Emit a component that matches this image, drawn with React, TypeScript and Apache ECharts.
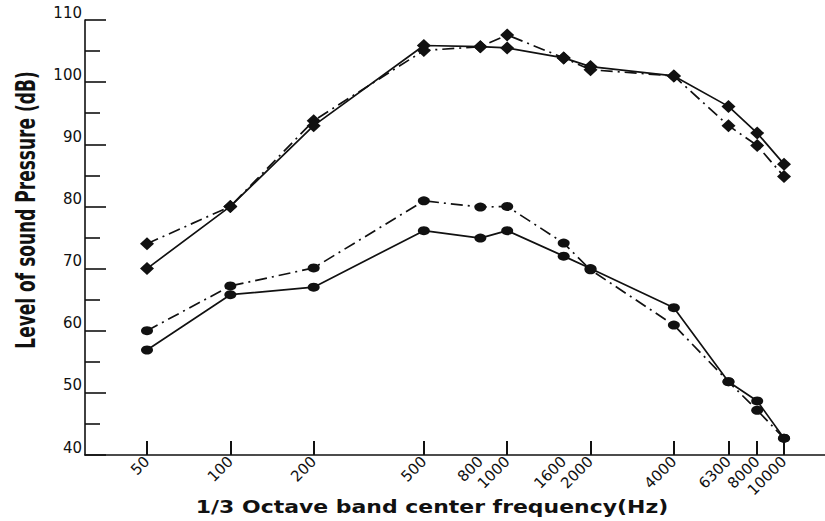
import React, { useEffect, useRef } from "react";
import * as echarts from "echarts";

// 1/3 octave band centre frequencies (Hz) at which levels were measured
const frequencies = [50, 100, 200, 500, 800, 1000, 1600, 2000, 4000, 6300, 8000, 10000];
// frequencies that carry a tick mark on the x axis
const tickFrequencies = [50, 100, 200, 500, 1000, 2000, 4000, 6300, 8000, 10000];

// Level of sound pressure (dB)
const upperSolid = [70, 80, 93, 105.9, 105.7, 105.5, 103.9, 102.5, 101, 96.1, 91.8, 86.8];
const upperDashDot = [74, 80, 93.8, 105.1, 105.7, 107.6, 103.9, 102, 101, 93, 89.8, 84.8];
const lowerDashDot = [60, 67.2, 70.1, 80.9, 79.9, 80, 74.1, 69.8, 60.9, 51.8, 47.2, 42.7];
const lowerSolid = [56.9, 65.8, 67, 76.1, 74.9, 76.1, 72, 70, 63.7, 51.8, 48.7, 42.7];

const yTicks = { min: 40, max: 110, interval: 10 };

const xTitle = "1/3 Octave band center frequency(Hz)";
const yTitle = "Level of sound Pressure (dB)";

const INK = "#111111";

function toPoints(values: number[]) {
  return frequencies.map((f, i) => [Math.log10(f), values[i]]);
}

function nearestFreq(v: number) {
  let best = frequencies[0];
  for (const f of frequencies) {
    if (Math.abs(Math.log10(f) - v) < Math.abs(Math.log10(best) - v)) best = f;
  }
  return String(best);
}

export default function App() {
  const ref = useRef<HTMLDivElement>(null);
  useEffect(() => {
    if (!ref.current) return;
    const chart = echarts.init(ref.current, null, { renderer: "svg" });
    const dashDot = [12, 5, 2, 5];
    const lineSeries = (name: string, values: number[], symbol: string, size: any, dashed: boolean) => ({
      name,
      type: "line",
      data: toPoints(values),
      symbol,
      symbolSize: size,
      showSymbol: true,
      itemStyle: { color: INK, borderWidth: 0 },
      lineStyle: { color: INK, width: 1.7, type: dashed ? dashDot : "solid" },
      emphasis: { disabled: true },
      z: dashed ? 2 : 3,
    });
    chart.setOption({
      animation: false,
      backgroundColor: "#ffffff",
      grid: { left: 85, right: 0, top: 20, bottom: 66, containLabel: false, outerBoundsMode: "none" },
      xAxis: {
        type: "value",
        min: 1.475,
        max: 4.148,
        axisLine: { show: true, lineStyle: { color: INK, width: 1.6 } },
        axisTick: {
          show: true,
          inside: true,
          length: 14,
          lineStyle: { color: INK, width: 2 },
          customValues: tickFrequencies.map((f) => Math.log10(f)),
        },
        axisLabel: {
          show: true,
          rotate: 45,
          margin: 4,
          color: INK,
          fontSize: 15,
          fontFamily: "'DejaVu Sans', sans-serif",
          customValues: frequencies.map((f) => Math.log10(f)),
          formatter: (v: number) => nearestFreq(v),
        },
        splitLine: { show: false },
      },
      yAxis: {
        type: "value",
        min: yTicks.min,
        max: yTicks.max,
        interval: yTicks.interval,
        axisLine: { show: true, lineStyle: { color: INK, width: 1.6 } },
        axisTick: { show: true, inside: true, length: 21, lineStyle: { color: INK, width: 1.6 } },
        minorTick: { show: true, splitNumber: 2, length: 15, lineStyle: { color: INK, width: 1.6 } },
        axisLabel: {
          color: INK,
          fontSize: 15,
          margin: 3,
          verticalAlign: "bottom",
          lineHeight: 15,
          fontFamily: "'DejaVu Sans', sans-serif",
        },
        splitLine: { show: false },
        minorSplitLine: { show: false },
      },
      series: [
        lineSeries("upperSolid", upperSolid, "diamond", [14, 13], false),
        lineSeries("upperDashDot", upperDashDot, "diamond", [14, 13], true),
        lineSeries("lowerDashDot", lowerDashDot, "circle", [12, 9], true),
        lineSeries("lowerSolid", lowerSolid, "circle", [12, 9], false),
      ],
      graphic: [
        {
          type: "text",
          x: 432,
          y: 507,
          scaleX: 1.22,
          style: {
            text: xTitle,
            fill: INK,
            font: "bold 18px 'DejaVu Sans', sans-serif",
            align: "center",
            verticalAlign: "middle",
          },
        },
        {
          type: "text",
          x: 26,
          y: 210,
          rotation: Math.PI / 2,
          scaleX: 0.655,
          style: {
            text: yTitle,
            fill: INK,
            font: "bold 26px 'DejaVu Sans', sans-serif",
            align: "center",
            verticalAlign: "middle",
          },
        },
      ],
    });
    return () => chart.dispose();
  }, []);
  return (
    <div
      ref={ref}
      style={{ position: "absolute", left: 0, top: 0, width: 825, height: 521, background: "#fff" }}
    />
  );
}
